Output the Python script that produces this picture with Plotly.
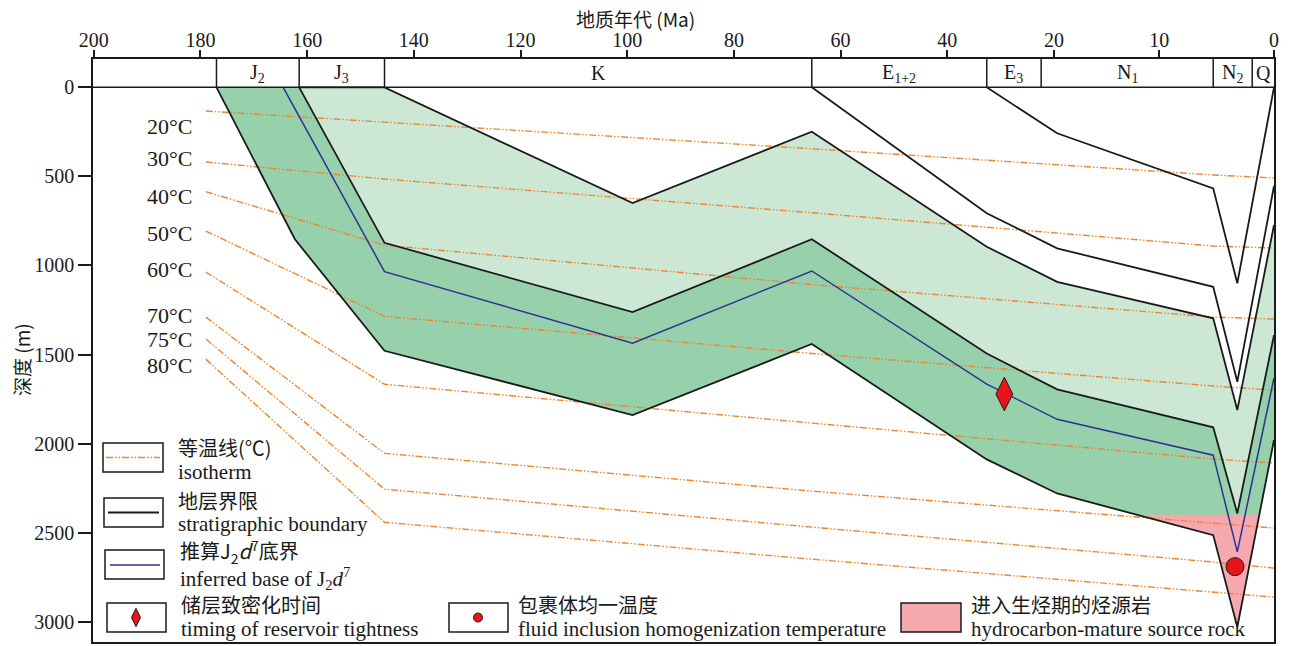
import numpy as np
import plotly.graph_objects as go

# ---------------- data (ages in Ma, depths in m) ----------------
tick_ages = [200, 180, 160, 140, 120, 100, 80, 60, 40, 20, 10, 0]
depth_ticks = [0, 500, 1000, 1500, 2000, 2500, 3000]

period_names = ["J<sub>2</sub>", "J<sub>3</sub>", "K", "E<sub>1+2</sub>",
                "E<sub>3</sub>", "N<sub>1</sub>", "N<sub>2</sub>", "Q"]
period_start = [177, 161.5, 145.5, 65.4, 32.6, 22.4, 5.3, 1.9]

ktop_age = [161.5, 145.5, 99, 65.4, 32.6, 19.7, 5.3, 3.2, 0]
ktop_depth = [0, 0, 650, 249, 895, 1092, 1297, 1812, 773]
j3base_age = [161.5, 145.5, 99, 65.4, 32.6, 19.7, 5.3, 3.2, 0]
j3base_depth = [0, 873, 1262, 853, 1494, 1696, 1909, 2392, 1391]
j2d7_age = [164.5, 145.5, 99, 65.4, 32.6, 19.7, 5.3, 3.2, 0]
j2d7_depth = [0, 1035, 1436, 1031, 1666, 1864, 2065, 2608, 1632]
j2base_age = [177, 162.3, 145.5, 99, 65.4, 32.6, 19.7, 5.3, 3.2, 0]
j2base_depth = [0, 853, 1479, 1840, 1441, 2089, 2280, 2514, 3030, 1980]
e12_age = [65.4, 32.6, 19.7, 5.3, 3.2, 0]
e12_depth = [0, 707, 904, 1120, 1653, 554]
e3_age = [32.6, 19.7, 5.3, 3.2, 0]
e3_depth = [0, 258, 567, 1100, 0]

iso_temps = [20, 30, 40, 50, 60, 70, 75, 80]
iso_age = [179, 145.5, 65.4, 5.3, 0]
iso_depth = [
    [133, 195, 345, 492, 509],
    [419, 515, 704, 891, 902],
    [586, 886, 1107, 1290, 1301],
    [807, 1286, 1494, 1677, 1700],
    [1037, 1667, 1885, 2087, 2109],
    [1290, 2055, 2267, 2446, 2474],
    [1413, 2256, 2469, 2665, 2699],
    [1526, 2442, 2649, 2834, 2862],
]
iso_label_yshift = [-15, 3, -5, -2, 3, 2, 0, -6]

tight_age, tight_depth = [29.3], [1722]
incl_age, incl_depth = [3.4], [2691]
mature_depth = 2400

# ---------------- scales ----------------
def u(a):
    """broken time axis: 0-20 Ma stretched"""
    return np.interp(np.asarray(a, dtype=float), [0, 10, 20, 200], [0, 21.5, 41.25, 221.25])

U_LEFT = 221.4
Y_TOP, Y_BOT = -159, 3114

# plot area in page pixels (for legend placement); page body has an 8px margin
PL, PR, PT, PB = 93.0, 1274.0, 59.0, 642.0
OFF = 8
def px(x): return (x - PL) / (PR - PL)
def py(y): return (PB - y) / (PB - PT)

SERIF = "Liberation Serif, Noto Sans CJK SC"
CJK = "Noto Sans CJK SC, Liberation Serif"
DARK_G = "#96D1AB"
LIGHT_G = "#CCE8D5"
PINK = "#F5A9AE"
ORANGE = "#EE8530"
BLUE = "#2E3192"
BLACK = "#1a1a1a"
RED = "#E8141C"
ISO_DASH = "7px,2px,1.5px,2px,1.5px,2px"

fig = go.Figure()

# fills
lg_x = list(u(ktop_age)) + list(u(j3base_age))[::-1]
lg_y = ktop_depth + j3base_depth[::-1]
fig.add_trace(go.Scatter(x=lg_x, y=lg_y, fill="toself", fillcolor=LIGHT_G,
                         mode="lines", line=dict(width=0), hoverinfo="skip", showlegend=False))
dg_x = [float(u(177))] + list(u(j3base_age)) + list(u(j2base_age))[::-1]
dg_y = [0] + j3base_depth + j2base_depth[::-1]
fig.add_trace(go.Scatter(x=dg_x, y=dg_y, fill="toself", fillcolor=DARK_G,
                         mode="lines", line=dict(width=0), hoverinfo="skip", showlegend=False))

# mature source-rock zone: part of J2 band deeper than mature_depth
pts = []
for i in range(len(j2base_age) - 1):
    a0, d0, a1, d1 = j2base_age[i], j2base_depth[i], j2base_age[i + 1], j2base_depth[i + 1]
    if d0 >= mature_depth:
        pts.append((a0, d0))
    if (d0 - mature_depth) * (d1 - mature_depth) < 0:
        t = (mature_depth - d0) / (d1 - d0)
        pts.append((a0 + t * (a1 - a0), mature_depth))
if j2base_depth[-1] >= mature_depth:
    pts.append((j2base_age[-1], j2base_depth[-1]))
fig.add_trace(go.Scatter(x=u([p[0] for p in pts]), y=[p[1] for p in pts], fill="toself",
                         fillcolor=PINK, mode="lines", line=dict(width=0),
                         hoverinfo="skip", showlegend=False))

# isotherms
for depths in iso_depth:
    fig.add_trace(go.Scatter(x=u(iso_age), y=depths, mode="lines",
                             line=dict(color=ORANGE, width=1.4, dash=ISO_DASH),
                             hoverinfo="skip", showlegend=False))

# stratigraphic boundaries
for ages, depths in [(ktop_age, ktop_depth), (j3base_age, j3base_depth),
                     (j2base_age, j2base_depth), (e12_age, e12_depth), (e3_age, e3_depth)]:
    fig.add_trace(go.Scatter(x=u(ages), y=depths, mode="lines",
                             line=dict(color=BLACK, width=1.8),
                             hoverinfo="skip", showlegend=False))

# inferred base of J2d7
fig.add_trace(go.Scatter(x=u(j2d7_age), y=j2d7_depth, mode="lines",
                         line=dict(color=BLUE, width=1.5), hoverinfo="skip", showlegend=False))

# markers
fig.add_trace(go.Scatter(x=u(tight_age), y=tight_depth, mode="markers",
                         marker=dict(symbol="diamond-tall", size=24, color=RED,
                                     line=dict(color=BLACK, width=1)), showlegend=False))
fig.add_trace(go.Scatter(x=u(incl_age), y=incl_depth, mode="markers",
                         marker=dict(symbol="circle", size=18, color=RED,
                                     line=dict(color=BLACK, width=1)), showlegend=False))

# legend markers on an overlay axis in plot-fraction units
fig.add_trace(go.Scatter(x=[px(136)], y=[py(617.5)], xaxis="x2", yaxis="y2", mode="markers",
                         marker=dict(symbol="diamond-tall", size=13, color=RED,
                                     line=dict(color=BLACK, width=1)), showlegend=False))
fig.add_trace(go.Scatter(x=[px(478)], y=[py(617.5)], xaxis="x2", yaxis="y2", mode="markers",
                         marker=dict(symbol="circle", size=9, color=RED,
                                     line=dict(color=BLACK, width=1)), showlegend=False))

shapes = []
annotations = []

# stratigraphic column box
shapes.append(dict(type="line", xref="x", yref="y", x0=U_LEFT, x1=0, y0=0, y1=0,
                   line=dict(color=BLACK, width=1.5)))
bounds = period_start + [0]
for a in period_start:
    shapes.append(dict(type="line", xref="x", yref="y", x0=float(u(a)), x1=float(u(a)),
                       y0=Y_TOP, y1=0, line=dict(color=BLACK, width=1.5)))
for i, name in enumerate(period_names):
    xc = (float(u(bounds[i])) + float(u(bounds[i + 1]))) / 2
    annotations.append(dict(x=xc, y=-80, xref="x", yref="y", text=name, showarrow=False,
                            font=dict(family=SERIF, size=20, color=BLACK)))

# isotherm labels
for t, d, ys in zip(iso_temps, iso_depth, iso_label_yshift):
    annotations.append(dict(x=float(u(iso_age[0])), y=d[0], xref="x", yref="y",
                            text=f"{t}°C", showarrow=False, xanchor="right", xshift=-12,
                            yshift=ys, font=dict(family=SERIF, size=22, color=BLACK)))

# axis titles
annotations.append(dict(x=px(635), y=py(19), xref="paper", yref="paper",
                        xanchor="center", yanchor="middle",
                        text="地质年代 (Ma)", showarrow=False,
                        font=dict(family=CJK, size=19, color=BLACK)))
annotations.append(dict(x=px(21), y=py(360), xref="paper", yref="paper",
                        xanchor="center", yanchor="middle",
                        text="深度 (m)", showarrow=False, textangle=-90,
                        font=dict(family=CJK, size=19, color=BLACK)))

# custom legend
def rect(x0, y0, x1, y1, fill="rgba(0,0,0,0)"):
    shapes.append(dict(type="rect", xref="paper", yref="paper", x0=px(x0), x1=px(x1),
                       y0=py(y1), y1=py(y0), fillcolor=fill,
                       line=dict(color=BLACK, width=1.5)))

def hline(x0, x1, y, color, dash="solid", width=1.5):
    shapes.append(dict(type="line", xref="paper", yref="paper", x0=px(x0), x1=px(x1),
                       y0=py(y), y1=py(y), line=dict(color=color, width=width, dash=dash)))

def label(x, y, text, fam=SERIF, size=21):
    annotations.append(dict(x=px(x), y=py(y), xref="paper", yref="paper", text=text,
                            showarrow=False, xanchor="left", yanchor="middle",
                            font=dict(family=fam, size=size, color=BLACK)))

rect(103, 443, 163, 472); hline(106, 160, 457.5, ORANGE, ISO_DASH, 1.4)
label(176, 447, "等温线(℃)", CJK, 20); label(176, 472, "isotherm")
rect(104, 498, 163, 527); hline(108, 159, 512.5, BLACK, "solid", 1.8)
label(176, 500, "地层界限", CJK, 20); label(176, 524, "stratigraphic boundary")
rect(105, 550, 164, 579); hline(110, 160, 565, BLUE, "solid", 1.5)
label(178, 551, "推算J<sub>2</sub><i>d</i><sup>7</sup>底界", CJK, 20)
label(178, 578, "inferred base of J<sub>2</sub><i>d</i><sup>7</sup>")
rect(107, 603, 166, 632)
label(179, 604, "储层致密化时间", CJK, 20); label(179, 629, "timing of reservoir tightness")
rect(449, 603, 508, 632)
label(516, 604, "包裹体均一温度", CJK, 20); label(516, 629, "fluid inclusion homogenization temperature")
rect(901, 603, 961, 632, PINK)
label(969, 604, "进入生烃期的烃源岩", CJK, 20); label(969, 629, "hydrocarbon-mature source rock")

W, H = 1290, 646
fig.update_layout(
    width=W, height=H, autosize=False,
    margin=dict(l=PL - OFF, r=W - (PR - OFF), t=PT - OFF, b=H - (PB - OFF), autoexpand=False),
    plot_bgcolor="white", paper_bgcolor="white",
    shapes=shapes, annotations=annotations, showlegend=False,
    xaxis=dict(range=[U_LEFT, 0], side="top", tickvals=list(u(tick_ages)),
               ticktext=[str(a) for a in tick_ages], ticks="outside", ticklen=7,
               tickwidth=1.5, tickcolor=BLACK, showline=True, mirror=True,
               linecolor=BLACK, linewidth=1.5, showgrid=False, zeroline=False,
               automargin=False, ticklabelstandoff=-5,
               tickfont=dict(family=SERIF, size=20, color=BLACK)),
    yaxis=dict(range=[Y_BOT, Y_TOP], tickvals=depth_ticks, ticks="outside", ticklen=13,
               tickwidth=1.5, tickcolor=BLACK, showline=True, mirror=True,
               linecolor=BLACK, linewidth=1.5, showgrid=False, zeroline=False,
               automargin=False,
               tickfont=dict(family=SERIF, size=20, color=BLACK)),
    xaxis2=dict(overlaying="x", range=[0, 1], visible=False),
    yaxis2=dict(overlaying="y", range=[0, 1], visible=False),
)

fig.write_html("out.html")
